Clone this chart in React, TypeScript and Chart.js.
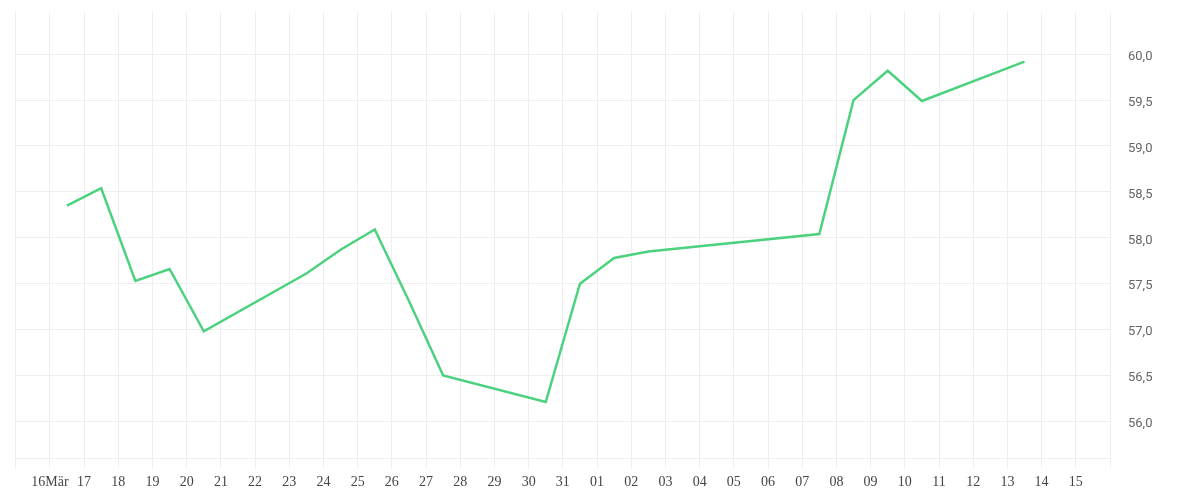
import React, { useEffect, useRef } from 'react';
import { Chart, registerables } from 'chart.js';

Chart.register(...registerables);

// Tick labels for each day from 15 Mar (index 0) to 16 Apr (index 32)
const tickLabels = [
  '', '16Mär', '17', '18', '19', '20', '21', '22', '23', '24', '25', '26', '27', '28', '29', '30', '31',
  '01', '02', '03', '04', '05', '06', '07', '08', '09', '10', '11', '12', '13', '14', '15', '',
];

// Day positions of the points (days after 15 Mar, at midday)
const pointDays = [1.5, 2.5, 3.5, 4.5, 5.5, 8.5, 9.5, 10.5, 11.5, 12.5, 15.5, 16.5, 17.5, 18.5, 23.5, 24.5, 25.5, 26.5, 29.5];

// Values
const prices = [58.35, 58.54, 57.53, 57.66, 56.98, 57.61, 57.87, 58.09, 57.31, 56.5, 56.21, 57.5, 57.78, 57.85, 58.04, 59.5, 59.82, 59.49, 59.92];

const yMin = 55.6;
const yMax = 60.46;

export default function App() {
  const ref = useRef<HTMLCanvasElement>(null);

  useEffect(() => {
    if (!ref.current) return;
    const chart = new Chart(ref.current, {
      type: 'line',
      data: {
        datasets: [
          {
            data: pointDays.map((d, i) => ({ x: d, y: prices[i] })),
            borderColor: '#4cd27e',
            backgroundColor: '#4cd27e',
            borderWidth: 2.5,
            pointRadius: 0,
            pointHoverRadius: 0,
            tension: 0,
            fill: false,
          },
        ],
      },
      options: {
        animation: false,
        responsive: true,
        maintainAspectRatio: false,
        layout: { padding: { left: 7.7, top: 4, right: 0, bottom: 0 } },
        plugins: { legend: { display: false }, tooltip: { enabled: false } },
        scales: {
          x: {
            type: 'linear',
            min: 0,
            max: tickLabels.length - 1,
            grid: { color: '#eeeeee', tickLength: 10, tickColor: '#eeeeee' },
            border: { color: '#eeeeee' },
            ticks: {
              stepSize: 1,
              autoSkip: false,
              maxRotation: 0,
              padding: 6,
              color: '#444',
              font: { family: '"Liberation Serif"', size: 14 },
              callback: (v: any) => tickLabels[Math.round(Number(v))] ?? '',
            },
            afterFit: (s: any) => {
              s.height = 34;
              s.paddingLeft = 0;
              s.paddingRight = 0;
            },
          },
          y: {
            position: 'right',
            min: yMin,
            max: yMax,
            grid: { color: '#eeeeee', drawTicks: false },
            border: { display: false },
            ticks: {
              stepSize: 0.5,
              padding: 18,
              labelOffset: 2.5,
              color: '#666',
              font: { family: 'Roboto', size: 13 },
              callback: (v: any) => Number(v).toFixed(1).replace('.', ','),
            },
            afterBuildTicks: (s: any) => {
              s.ticks = s.ticks.filter((t: any) => Math.abs(t.value * 2 - Math.round(t.value * 2)) < 1e-6);
            },
            afterFit: (s: any) => {
              s.width = 82;
              s.paddingTop = 0;
              s.paddingBottom = 0;
            },
          },
        },
      },
    });
    return () => chart.destroy();
  }, []);

  return (
    <div style={{ position: 'relative', width: '100%', height: 484 }}>
      <canvas ref={ref} />
    </div>
  );
}
